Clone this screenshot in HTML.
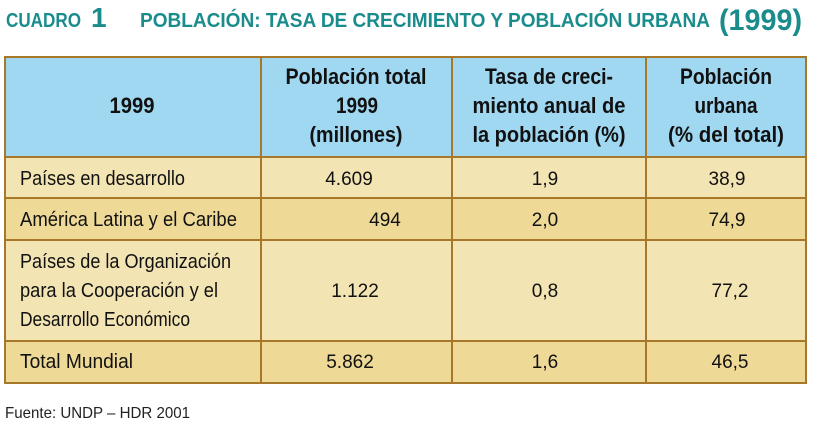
<!DOCTYPE html>
<html><head><meta charset="utf-8"><style>
html,body{margin:0;padding:0;background:#fff;width:813px;height:428px;overflow:hidden}
svg{display:block}
text{font-family:"Liberation Sans Narrow","Liberation Sans",sans-serif}
.h{font-weight:bold;font-size:22px;fill:#111;text-anchor:middle}
.b{font-size:20px;fill:#111}
.n{font-size:19px;fill:#111;text-anchor:middle}
.t{fill:#1a8c8c;font-weight:bold}
</style></head><body>
<svg width="813" height="428" viewBox="0 0 813 428">
<text class="t" x="6" y="27" font-size="20" textLength="75" lengthAdjust="spacingAndGlyphs">CUADRO</text>
<text class="t" x="91" y="27" font-size="28">1</text>
<text class="t" x="140" y="27" font-size="20" textLength="570" lengthAdjust="spacingAndGlyphs">POBLACIÓN: TASA DE CRECIMIENTO Y POBLACIÓN URBANA</text>
<text class="t" x="719" y="30" font-size="30" textLength="83" lengthAdjust="spacingAndGlyphs">(1999)</text>

<rect x="5" y="57" width="801" height="100" fill="#a0d8f2"/>
<rect x="5" y="157" width="801" height="41" fill="#f3e4b4"/>
<rect x="5" y="198" width="801" height="42" fill="#eed997"/>
<rect x="5" y="240" width="801" height="101" fill="#f3e4b4"/>
<rect x="5" y="341" width="801" height="42" fill="#eed997"/>
<g stroke="#a8782a" stroke-width="2" fill="none">
<rect x="5" y="57" width="801" height="326"/>
<line x1="5" y1="157" x2="806" y2="157"/>
<line x1="5" y1="198" x2="806" y2="198"/>
<line x1="5" y1="240" x2="806" y2="240"/>
<line x1="5" y1="341" x2="806" y2="341"/>
<line x1="261" y1="57" x2="261" y2="383"/>
<line x1="452" y1="57" x2="452" y2="383"/>
<line x1="646" y1="57" x2="646" y2="383"/>
</g>

<text class="h" x="132" y="113" textLength="45" lengthAdjust="spacingAndGlyphs">1999</text>
<text class="h" x="356" y="84" textLength="141" lengthAdjust="spacingAndGlyphs">Población total</text>
<text class="h" x="357" y="113" textLength="42" lengthAdjust="spacingAndGlyphs">1999</text>
<text class="h" x="356" y="142" textLength="93" lengthAdjust="spacingAndGlyphs">(millones)</text>
<text class="h" x="549" y="84" textLength="128" lengthAdjust="spacingAndGlyphs">Tasa de creci-</text>
<text class="h" x="549" y="113" textLength="153" lengthAdjust="spacingAndGlyphs">miento anual de</text>
<text class="h" x="549" y="142" textLength="153" lengthAdjust="spacingAndGlyphs">la población (%)</text>
<text class="h" x="726" y="84" textLength="92" lengthAdjust="spacingAndGlyphs">Población</text>
<text class="h" x="726" y="113" textLength="63" lengthAdjust="spacingAndGlyphs">urbana</text>
<text class="h" x="726" y="142" textLength="116" lengthAdjust="spacingAndGlyphs">(% del total)</text>

<text class="b" x="20" y="185" textLength="165" lengthAdjust="spacingAndGlyphs">Países en desarrollo</text>
<text class="n" x="349" y="185">4.609</text>
<text class="n" x="545" y="185">1,9</text>
<text class="n" x="727" y="185">38,9</text>

<text class="b" x="20" y="226" textLength="217" lengthAdjust="spacingAndGlyphs">América Latina y el Caribe</text>
<text class="n" x="385" y="226">494</text>
<text class="n" x="545" y="226">2,0</text>
<text class="n" x="727" y="226">74,9</text>

<text class="b" x="20" y="268" textLength="211" lengthAdjust="spacingAndGlyphs">Países de la Organización</text>
<text class="b" x="20" y="297" textLength="198" lengthAdjust="spacingAndGlyphs">para la Cooperación y el</text>
<text class="b" x="20" y="326" textLength="170" lengthAdjust="spacingAndGlyphs">Desarrollo Económico</text>
<text class="n" x="355" y="297">1.122</text>
<text class="n" x="545" y="297">0,8</text>
<text class="n" x="730" y="297">77,2</text>

<text class="b" x="20" y="368" textLength="113" lengthAdjust="spacingAndGlyphs">Total Mundial</text>
<text class="n" x="350" y="368">5.862</text>
<text class="n" x="545" y="368">1,6</text>
<text class="n" x="730" y="368">46,5</text>

<text x="5" y="418" font-size="16" fill="#222" textLength="185" lengthAdjust="spacingAndGlyphs">Fuente: UNDP – HDR 2001</text>
</svg>
</body></html>
